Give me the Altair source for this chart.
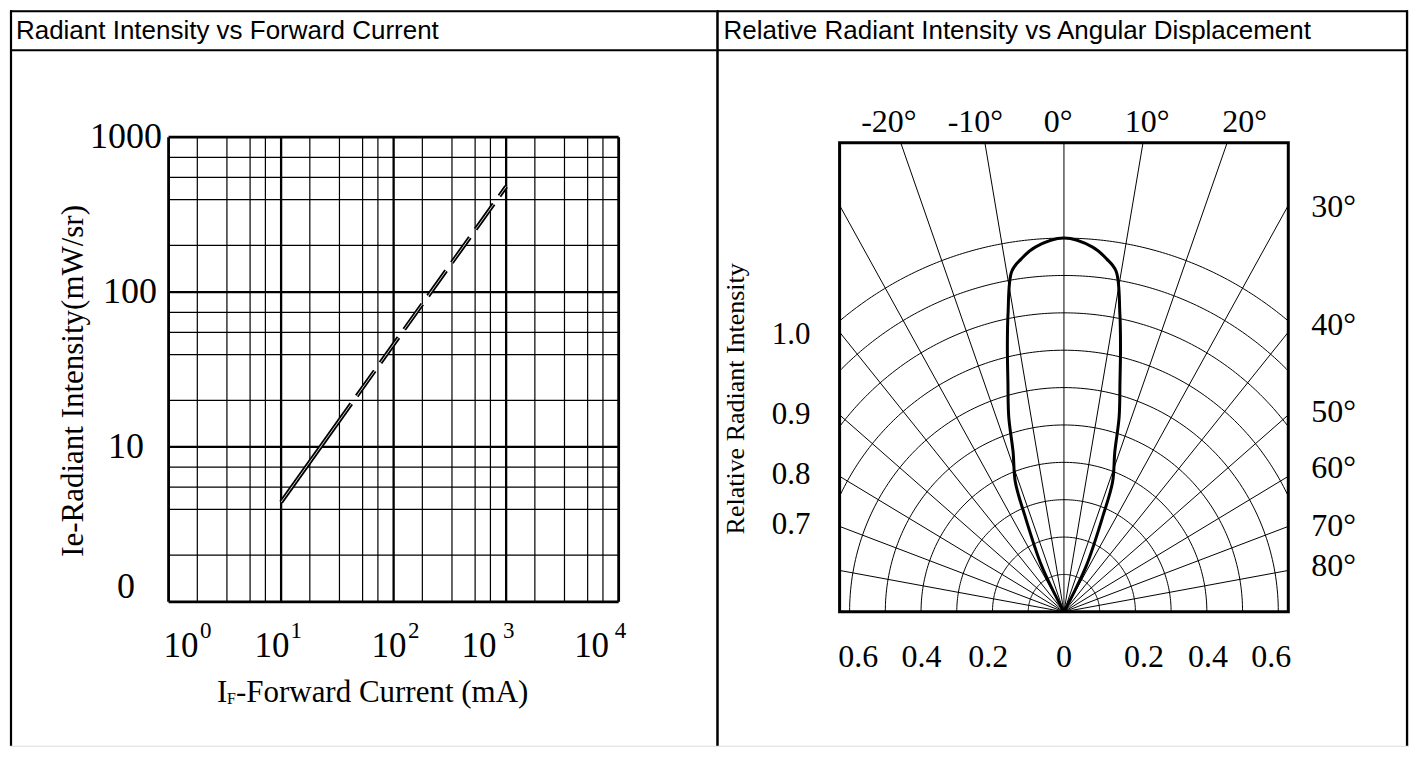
import altair as alt
import pandas as pd
import numpy as np

# ---------------- Left chart: Radiant Intensity vs Forward Current ----------------
IF_SOLID = [10, 42]          # mA
IE_SOLID = [4.4, 19.0]       # mW/sr
IF_DASH = [47, 100, 1000]
IE_DASH = [21.3, 46, 480]

X_DECADES = [1, 10, 100, 1000, 10000]
X_MINOR_MULT = [1.8, 3.3, 5.3, 7.25]
Y_DECADES = [1, 10, 100, 1000]
Y_MINOR_MULT = [2.0, 3.95, 5.5, 7.4]

Y_TICK_TEXT = ["1000", "100", "10", "0"]
Y_TICK_AT = [1000, 100, 10, 1.25]
Y_TICK_X = [0.872, 0.787, 0.604, 0.502]

X_TICK_BASE = ["10", "10", "10", "10", "10"]
X_TICK_EXP = ["0", "1", "2", "3", "4"]
X_TICK_BASE_AT = [1.29, 8.3, 91, 575, 5750]
X_TICK_EXP_AT = [2.14, 13.6, 151, 1054, 10400]

TITLE_L = "Radiant Intensity vs Forward Current"
YTITLE_L = "Ie-Radiant Intensity(mW/sr)"
XTITLE_MAIN = "I"
XTITLE_SUB = "F"
XTITLE_REST = "-Forward Current (mA)"

# ---------------- Right chart: Relative Radiant Intensity vs Angular Displacement ----------------
LOBE_ANGLE = [-29.5, -28.5, -26.9, -23.0, -21.4, -18.4, -16.5, -14.3, -12.6, -11.1, -9.1, -7.2, -4.7,
              0.0, 4.7, 7.2, 9.1, 11.1, 12.6, 14.3, 16.5, 18.4, 21.4, 23.0, 26.9, 28.5, 29.5]
LOBE_REL = [0.0, 0.05, 0.14, 0.281, 0.373, 0.451, 0.544, 0.635, 0.726, 0.813, 0.923, 0.952, 0.979,
            1.0, 0.979, 0.952, 0.923, 0.813, 0.726, 0.635, 0.544, 0.451, 0.373, 0.281, 0.14, 0.05, 0.0]

RINGS = [0.1, 0.2, 0.3, 0.4, 0.5, 0.6, 0.7, 0.8, 0.9, 1.0]
SPOKES = [-80, -70, -60, -50, -40, -30, -20, -10, 0, 10, 20, 30, 40, 50, 60, 70, 80]
BOX_HALF = 0.628
BOX_TOP = 1.255

TOP_LABELS = ["-20°", "-10°", "0°", "10°", "20°"]
TOP_LABEL_X = [-0.49, -0.248, -0.016, 0.233, 0.506]
SIDE_LABELS = ["30°", "40°", "50°", "60°", "70°", "80°"]
SIDE_LABEL_Y = [1.083, 0.767, 0.535, 0.385, 0.230, 0.123]
LEFT_LABELS = ["1.0", "0.9", "0.8", "0.7"]
LEFT_LABEL_Y = [0.741, 0.527, 0.366, 0.233]
BOTTOM_LABELS = ["0.6", "0.4", "0.2", "0", "0.2", "0.4", "0.6"]
BOTTOM_LABEL_X = [-0.576, -0.399, -0.212, 0.0, 0.224, 0.403, 0.580]
TITLE_R = "Relative Radiant Intensity vs Angular Displacement"
YTITLE_R = "Relative Radiant Intensity"

# ---------------- layout ----------------
WL, WR, H = 707, 692, 736
SERIF = "Liberation Serif"
SANS = "Liberation Sans"

# left scales (pixel of value 1 and pixels per decade)
X0, XPD = 158.7, 112.6
Y0, YPD = 592.0, 155.0
xsL = alt.Scale(type="log", domain=[10 ** (-X0 / XPD), 10 ** ((WL - X0) / XPD)], nice=False)
ysL = alt.Scale(type="log", domain=[10 ** ((Y0 - H) / YPD), 10 ** (Y0 / YPD)], nice=False)

# right scales (origin pixel, pixels per unit)
OX, OY, PX, PY = 347.7, 602.0, 357.5, 374.0
xsR = alt.Scale(domain=[-OX / PX, (WR - OX) / PX], nice=False, zero=False)
ysR = alt.Scale(domain=[-(H - OY) / PY, OY / PY], nice=False, zero=False)


def XL(f):
    return alt.X(f, type="quantitative", scale=xsL, axis=None)


def YL(f):
    return alt.Y(f, type="quantitative", scale=ysL, axis=None)


def XR(f):
    return alt.X(f, type="quantitative", scale=xsR, axis=None)


def YR(f):
    return alt.Y(f, type="quantitative", scale=ysR, axis=None)


one = pd.DataFrame({"a": [0]})


def frame_rule(w=2.2, **enc):
    return alt.Chart(one).mark_rule(color="black", strokeWidth=w).encode(**enc)


# ---- left grid ----
vrows = []
for v in X_DECADES:
    w = 2.8 if v in (1, 10000) else 2.3
    vrows.append({"x": v, "y1": 1, "y2": 1000, "w": w})
for k in range(4):
    for m in X_MINOR_MULT:
        vrows.append({"x": m * 10 ** k, "y1": 1, "y2": 1000, "w": 1.2})
hrows = []
for v in Y_DECADES:
    w = 2.8 if v in (1, 1000) else 2.3
    hrows.append({"y": v, "x1": 1, "x2": 10000, "w": w})
for k in range(3):
    for m in Y_MINOR_MULT:
        hrows.append({"y": m * 10 ** k, "x1": 1, "x2": 10000, "w": 1.2})

vgrid = alt.Chart(pd.DataFrame(vrows)).mark_rule(color="black").encode(
    x=XL("x"), y=YL("y1"), y2="y2", strokeWidth=alt.StrokeWidth("w:Q", scale=None))
hgrid = alt.Chart(pd.DataFrame(hrows)).mark_rule(color="black").encode(
    y=YL("y"), x=XL("x1"), x2="x2", strokeWidth=alt.StrokeWidth("w:Q", scale=None))

solid = pd.DataFrame({"i": IF_SOLID, "e": IE_SOLID})
dash = pd.DataFrame({"i": IF_DASH, "e": IE_DASH})
line_layers = []
for df, dsh in ((solid, None), (dash, [31, 10])):
    for col, sw in (("black", 4.2), ("white", 0.8)):
        kw = dict(color=col, strokeWidth=sw, strokeCap="butt")
        if dsh:
            kw["strokeDash"] = dsh
        line_layers.append(alt.Chart(df).mark_line(**kw).encode(x=XL("i"), y=YL("e")))

ylab = alt.Chart(pd.DataFrame({"t": Y_TICK_TEXT, "y": Y_TICK_AT, "x": Y_TICK_X})).mark_text(
    align="right", baseline="middle", font=SERIF, fontSize=36).encode(x=XL("x"), y=YL("y"), text="t")
xbase = alt.Chart(pd.DataFrame({"t": X_TICK_BASE, "x": X_TICK_BASE_AT, "y": [0.442] * 5})).mark_text(
    align="center", baseline="alphabetic", font=SERIF, fontSize=35).encode(x=XL("x"), y=YL("y"), text="t")
xexp = alt.Chart(pd.DataFrame({"t": X_TICK_EXP, "x": X_TICK_EXP_AT, "y": [0.586] * 5})).mark_text(
    align="center", baseline="alphabetic", font=SERIF, fontSize=23).encode(x=XL("x"), y=YL("y"), text="t")

xt = pd.DataFrame({"x": [2.69], "y": [0.226]})
xt_main = alt.Chart(xt).mark_text(align="left", baseline="alphabetic", font=SERIF, fontSize=31).encode(
    x=XL("x"), y=YL("y"), text=alt.value(XTITLE_MAIN))
xt_sub = alt.Chart(xt).mark_text(align="left", baseline="alphabetic", font=SERIF, fontSize=16, dx=10, dy=2).encode(
    x=XL("x"), y=YL("y"), text=alt.value(XTITLE_SUB))
xt_rest = alt.Chart(xt).mark_text(align="left", baseline="alphabetic", font=SERIF, fontSize=31, dx=19).encode(
    x=XL("x"), y=YL("y"), text=alt.value(XTITLE_REST))
yt = alt.Chart(pd.DataFrame({"x": [0.144], "y": [26.7]})).mark_text(
    align="center", baseline="middle", font=SERIF, fontSize=31, angle=270).encode(
    x=XL("x"), y=YL("y"), text=alt.value(YTITLE_L))
ttl = alt.Chart(pd.DataFrame({"x": [0.044], "y": [4290]})).mark_text(
    align="left", baseline="alphabetic", font=SANS, fontSize=26).encode(
    x=XL("x"), y=YL("y"), text=alt.value(TITLE_L))

left = alt.layer(
    vgrid, hgrid, *line_layers, ylab, xbase, xexp, xt_main, xt_sub, xt_rest, yt, ttl,
    frame_rule(x=alt.value(1), y=alt.value(0), y2=alt.value(H)),
    frame_rule(x=alt.value(0), x2=alt.value(WL), y=alt.value(1)),
    frame_rule(x=alt.value(0), x2=alt.value(WL), y=alt.value(40)),
).properties(width=WL, height=H)

# ---- right polar chart ----
arc_rows = []
for r in RINGS:
    tmax = np.pi / 2 if r <= BOX_HALF else np.arcsin(BOX_HALF / r)
    for j, t in enumerate(np.linspace(-tmax, tmax, 161)):
        arc_rows.append({"r": r, "j": j, "x": r * np.sin(t), "y": r * np.cos(t)})
arcs = alt.Chart(pd.DataFrame(arc_rows)).mark_line(color="black", strokeWidth=1).encode(
    x=XR("x"), y=YR("y"), detail="r:N", order="j:Q")

spoke_rows = []
for a in SPOKES:
    t = np.radians(a)
    s, c = np.sin(t), np.cos(t)
    L = BOX_TOP / c if abs(s) < 1e-9 else min(BOX_HALF / abs(s), BOX_TOP / c)
    spoke_rows.append({"x0": 0.0, "y0": 0.0, "x1": L * s, "y1": L * c})
spokes = alt.Chart(pd.DataFrame(spoke_rows)).mark_rule(color="black", strokeWidth=1).encode(
    x=XR("x0"), y=YR("y0"), x2="x1", y2="y1")

box = alt.Chart(pd.DataFrame({"x": [-BOX_HALF], "x2": [BOX_HALF], "y": [0.0], "y2": [BOX_TOP]})).mark_rect(
    filled=False, color="black", strokeWidth=3).encode(x=XR("x"), x2="x2", y=YR("y"), y2="y2")

lobe = alt.Chart(pd.DataFrame({"a": LOBE_ANGLE, "r": LOBE_REL, "o": list(range(len(LOBE_ANGLE)))})).transform_calculate(
    px="datum.r * sin(datum.a * PI / 180)", py="datum.r * cos(datum.a * PI / 180)"
).mark_line(color="black", strokeWidth=3, interpolate="catmull-rom").encode(
    x=XR("px"), y=YR("py"), order="o:Q")

toplab = alt.Chart(pd.DataFrame({"t": TOP_LABELS, "x": TOP_LABEL_X, "y": [1.283] * 5})).mark_text(
    align="center", baseline="alphabetic", font=SERIF, fontSize=32).encode(x=XR("x"), y=YR("y"), text="t")
sidelab = alt.Chart(pd.DataFrame({"t": SIDE_LABELS, "y": SIDE_LABEL_Y, "x": [0.692] * 6})).mark_text(
    align="left", baseline="middle", font=SERIF, fontSize=32).encode(x=XR("x"), y=YR("y"), text="t")
leftlab = alt.Chart(pd.DataFrame({"t": LEFT_LABELS, "y": LEFT_LABEL_Y, "x": [-0.818] * 4})).mark_text(
    align="left", baseline="middle", font=SERIF, fontSize=31).encode(x=XR("x"), y=YR("y"), text="t")
botlab = alt.Chart(pd.DataFrame({"t": BOTTOM_LABELS, "x": BOTTOM_LABEL_X, "y": [-0.12] * 7})).mark_text(
    align="center", baseline="middle", font=SERIF, fontSize=32).encode(x=XR("x"), y=YR("y"), text="t")
ytr = alt.Chart(pd.DataFrame({"x": [-0.918], "y": [0.57]})).mark_text(
    align="center", baseline="middle", font=SERIF, fontSize=26, angle=270).encode(
    x=XR("x"), y=YR("y"), text=alt.value(YTITLE_R))
ttr = alt.Chart(pd.DataFrame({"x": [-0.953], "y": [1.532]})).mark_text(
    align="left", baseline="alphabetic", font=SANS, fontSize=26).encode(
    x=XR("x"), y=YR("y"), text=alt.value(TITLE_R))

right = alt.layer(
    arcs, spokes, box, lobe, toplab, sidelab, leftlab, botlab, ytr, ttr,
    frame_rule(x=alt.value(0), x2=alt.value(WR), y=alt.value(1)),
    frame_rule(x=alt.value(0), x2=alt.value(WR), y=alt.value(40)),
    frame_rule(w=2.5, x=alt.value(1), y=alt.value(0), y2=alt.value(H)),
    frame_rule(x=alt.value(WR - 1), y=alt.value(0), y2=alt.value(H)),
).properties(width=WR, height=H)

chart = alt.hconcat(left, right, spacing=0, bounds="flush").resolve_scale(
    x="independent", y="independent"
).properties(padding=0).configure_view(stroke=None).configure(background="white")

chart.save("out.html", embed_options={"renderer": "svg", "actions": False})
